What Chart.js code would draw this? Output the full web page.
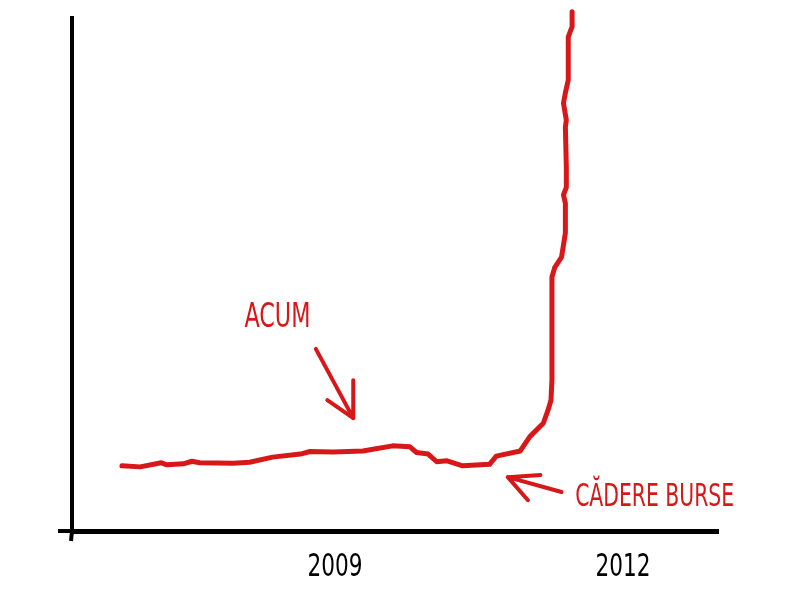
<!DOCTYPE html>
<html>
<head>
<meta charset="utf-8">
<script src="https://cdn.jsdelivr.net/npm/chart.js@4/dist/chart.umd.min.js"></script>
<style>
  html, body { margin: 0; padding: 0; background: #fff; }
  #wrap { width: 800px; height: 600px; }
</style>
</head>
<body>
<div id="wrap"><canvas id="chart" width="800" height="600"></canvas></div>
<script>
// hand drawn curve, x in years, y in an arbitrary index (0 = x axis)
const years = [2006.78, 2006.97, 2007.19, 2007.25, 2007.42, 2007.51, 2007.59, 2007.94, 2008.11, 2008.35,
  2008.64, 2008.74, 2008.98, 2009.29, 2009.60, 2009.78, 2009.85, 2009.97, 2010.06, 2010.16,
  2010.33, 2010.61, 2010.68, 2010.93, 2011.03, 2011.17, 2011.22, 2011.25, 2011.26, 2011.26,
  2011.26, 2011.29, 2011.36, 2011.40, 2011.40, 2011.38, 2011.41, 2011.41, 2011.40, 2011.41,
  2011.38, 2011.40, 2011.43, 2011.43, 2011.47, 2011.47];
const values = [12.7, 12.5, 13.3, 12.9, 13.1, 13.6, 13.3, 13.2, 13.4, 14.4,
  15.0, 15.5, 15.4, 15.6, 16.6, 16.4, 15.3, 15.0, 13.5, 13.7,
  12.7, 13.0, 14.6, 15.6, 18.4, 21.0, 23.6, 25.5, 29.4, 45.0,
  49.5, 51.4, 53.4, 58.1, 63.9, 65.5, 67.0, 70.9, 78.7, 80.1,
  83.4, 85.4, 87.9, 96.3, 98.3, 101.2];
const tickYears = [2009, 2012];

// annotations (text + hand drawn arrows), in the same data units
const notes = [
  { text: 'ACUM', x: 2008.40, y: 41.5, width: 66, size: 34 },
  { text: 'CĂDERE BURSE', x: 2012.33, y: 6.4, width: 159, size: 32 }
];
const arrows = [
  { tip: [2009.19, 22.0], ends: [[2008.80, 35.5], [2009.19, 29.4], [2008.92, 25.5]] },
  { tip: [2010.80, 10.5], ends: [[2011.14, 10.9], [2011.36, 7.6], [2011.01, 6.0]] }
];

const red = '#d81818';
const font = "'Liberation Sans Narrow', 'DejaVu Sans Condensed', sans-serif";

const sketchPlugin = {
  id: 'sketch',
  afterDatasetsDraw(chart) {
    const ctx = chart.ctx;
    const xs = chart.scales.x, ys = chart.scales.y;
    const area = chart.chartArea;
    ctx.save();
    // axis overhangs
    ctx.strokeStyle = '#000';
    ctx.lineWidth = 4;
    ctx.beginPath();
    ctx.moveTo(area.left - 14, ys.getPixelForValue(0));
    ctx.lineTo(area.left, ys.getPixelForValue(0));
    ctx.moveTo(area.left, area.bottom);
    ctx.lineTo(area.left - 1, area.bottom + 10);
    ctx.stroke();

    // year labels, squeezed like the paint font
    ctx.fillStyle = '#000';
    ctx.font = '32px ' + font;
    ctx.textAlign = 'center';
    ctx.textBaseline = 'middle';
    xs.ticks.forEach(t => {
      ctx.fillText(String(t.value), xs.getPixelForValue(t.value), area.bottom + 37, 55);
    });

    ctx.strokeStyle = red;
    ctx.lineWidth = 4;
    ctx.lineCap = 'round';
    arrows.forEach(a => {
      const tx = xs.getPixelForValue(a.tip[0]), ty = ys.getPixelForValue(a.tip[1]);
      ctx.beginPath();
      a.ends.forEach(e => {
        ctx.moveTo(tx, ty);
        ctx.lineTo(xs.getPixelForValue(e[0]), ys.getPixelForValue(e[1]));
      });
      ctx.stroke();
    });

    ctx.fillStyle = red;
    notes.forEach(n => {
      ctx.font = n.size + 'px ' + font;
      ctx.fillText(n.text, xs.getPixelForValue(n.x), ys.getPixelForValue(n.y), n.width);
    });
    ctx.restore();
  }
};

new Chart(document.getElementById('chart'), {
  type: 'scatter',
  data: {
    datasets: [{
      data: years.map((x, i) => ({ x: x, y: values[i] })),
      showLine: true,
      borderColor: red,
      borderWidth: 5,
      borderJoinStyle: 'round',
      borderCapStyle: 'round',
      pointRadius: 0,
      tension: 0,
      clip: false
    }]
  },
  options: {
    responsive: false,
    animation: false,
    layout: { padding: { top: 18, right: 82, left: 0, bottom: 0 } },
    plugins: { legend: { display: false }, tooltip: { enabled: false } },
    scales: {
      x: {
        type: 'linear',
        min: 2006.26,
        max: 2012.99,
        grid: { display: false },
        border: { display: true, color: '#000', width: 5 },
        afterBuildTicks: s => { s.ticks = tickYears.map(v => ({ value: v })); },
        afterFit: s => { s.height = 69; },
        ticks: { display: false }
      },
      y: {
        min: 0,
        max: 100,
        grid: { display: false },
        border: { display: true, color: '#000', width: 4 },
        afterFit: s => { s.width = 72; },
        ticks: { display: false }
      }
    }
  },
  plugins: [sketchPlugin]
});
</script>
</body>
</html>
